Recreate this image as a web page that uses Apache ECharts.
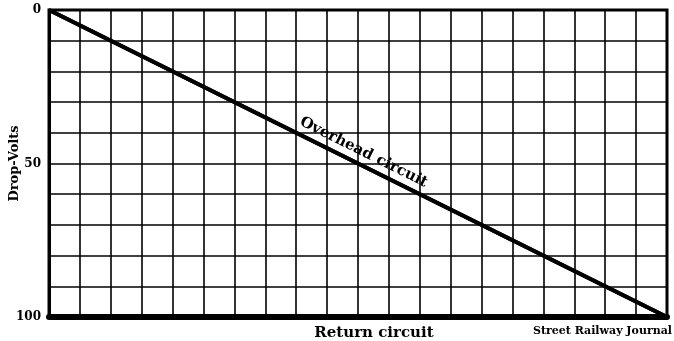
<!DOCTYPE html>
<html>
<head>
<meta charset="utf-8">
<script src="https://cdn.jsdelivr.net/npm/echarts@6/dist/echarts.min.js"></script>
<style>
  html, body { margin: 0; padding: 0; background: #fff; }
  #chart { width: 674px; height: 341px; }
</style>
</head>
<body>
<div id="chart"></div>
<script>
// Drop in volts along the overhead line, from the feeding point to the far end.
const distanceUnits = [0, 20];      // length of the line, in grid squares
const dropVolts = [0, 100];         // drop at each end
const yTickLabels = [0, 50, 100];   // labelled rulings on the volt scale
const lineLabel = 'Overhead circuit';
const xAxisTitle = 'Return circuit';
const yAxisTitle = 'Drop-Volts';
const creditText = 'Street Railway Journal';

const SERIF = '"DejaVu Serif", "Liberation Serif", serif';
const points = distanceUnits.map((d, i) => [d, dropVolts[i]]);

const chart = echarts.init(document.getElementById('chart'), null, { renderer: 'canvas' });
chart.setOption({
  animation: false,
  backgroundColor: '#fff',
  title: {
    text: creditText,
    right: 2,
    bottom: 4,
    padding: 0,
    textStyle: { fontFamily: SERIF, fontWeight: 'bold', fontSize: 11, color: '#000' }
  },
  grid: {
    left: 49, right: 7, top: 10, bottom: 24,
    containLabel: false,
    outerBoundsMode: 'none',
    show: true, borderColor: '#000', borderWidth: 3, backgroundColor: '#fff'
  },
  xAxis: {
    type: 'value',
    min: 0, max: 20, interval: 1,
    axisLine: { show: true, onZero: false, lineStyle: { color: '#000', width: 6 } },
    axisTick: { show: false },
    axisLabel: { show: false },
    splitLine: { show: true, lineStyle: { color: '#000', width: 1.6 } },
    name: xAxisTitle,
    nameLocation: 'middle',
    nameGap: 9,
    nameMoveOverlap: false,
    nameTextStyle: {
      fontFamily: SERIF, fontWeight: 'bold', fontSize: 15, color: '#000',
      padding: [0, 0, 0, 32]
    }
  },
  yAxis: {
    type: 'value',
    inverse: true,
    min: 0, max: 100, interval: 10,
    axisLine: { show: true, onZero: false, lineStyle: { color: '#000', width: 3 } },
    axisTick: { show: false },
    axisLabel: {
      margin: 8,
      fontFamily: SERIF, fontWeight: 'bold', fontSize: 12, color: '#000',
      formatter: v => (yTickLabels.includes(v) ? String(v) : '')
    },
    splitLine: { show: true, lineStyle: { color: '#000', width: 1.6 } },
    name: yAxisTitle,
    nameLocation: 'middle',
    nameGap: 28,
    nameMoveOverlap: false,
    nameTextStyle: { fontFamily: SERIF, fontWeight: 'bold', fontSize: 13, color: '#000' }
  },
  series: [{
    type: 'line',
    data: points,
    symbol: 'none',
    silent: true,
    lineStyle: { color: '#000', width: 4 },
    markLine: {
      silent: true,
      symbol: ['none', 'none'],
      lineStyle: { color: '#000', width: 4, type: 'solid' },
      label: {
        show: true,
        position: 'insideMiddleTop',
        distance: 5,
        formatter: lineLabel,
        fontFamily: SERIF, fontWeight: 'bold', fontSize: 15, color: '#000'
      },
      data: [[{ coord: points[0] }, { coord: points[points.length - 1] }]]
    }
  }]
});
</script>
</body>
</html>
